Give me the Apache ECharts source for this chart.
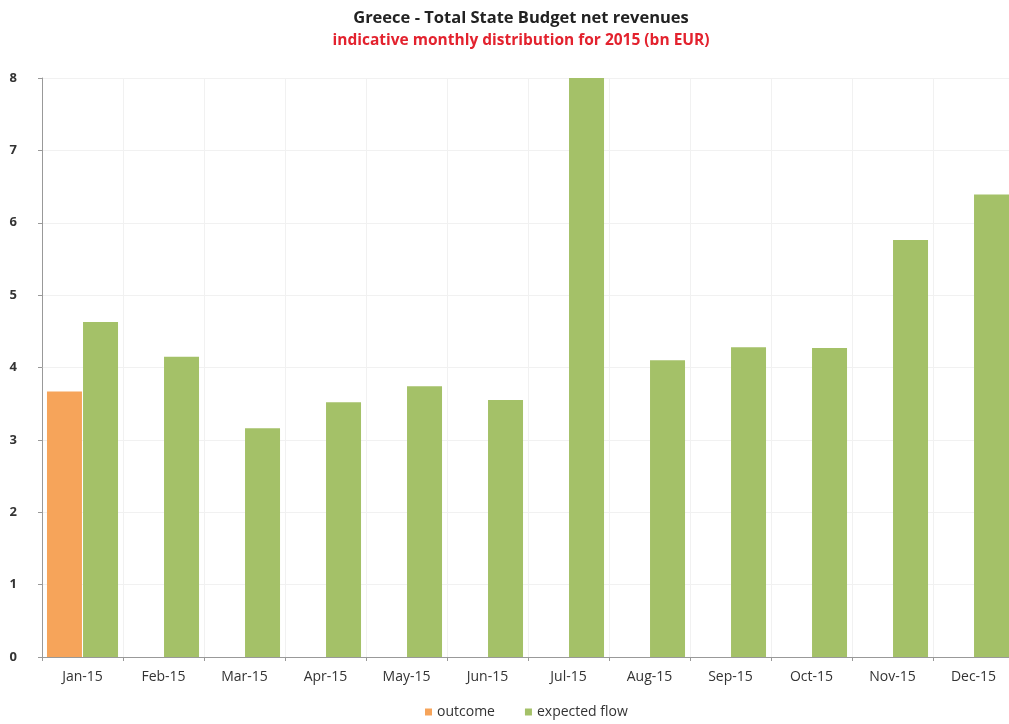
<!DOCTYPE html>
<html><head><meta charset="utf-8">
<script src="https://cdn.jsdelivr.net/npm/echarts@6/dist/echarts.min.js"></script>
<style>html,body{margin:0;padding:0;background:#fff;overflow:hidden}#c{width:1020px;height:724px}</style>
</head><body><div id="c"></div>
<script>
const categories = ['Jan-15','Feb-15','Mar-15','Apr-15','May-15','Jun-15','Jul-15','Aug-15','Sep-15','Oct-15','Nov-15','Dec-15'];
const outcome = [3.67, null, null, null, null, null, null, null, null, null, null, null];
const expectedFlow = [4.63, 4.15, 3.16, 3.52, 3.74, 3.55, 8.0, 4.10, 4.28, 4.27, 5.76, 6.39];
const yTicks = [0,1,2,3,4,5,6,7,8];

const chart = echarts.init(document.getElementById('c'));
const font = '"Open Sans", sans-serif';
chart.setOption({
  animation: false,
  textStyle: {fontFamily: font},
  title: {
    text: 'Greece - Total State Budget net revenues',
    subtext: 'indicative monthly distribution for 2015 (bn EUR)',
    left: 516, top: 5, textAlign: 'center', itemGap: 6,
    textStyle: {fontFamily: font, fontSize: 16.5, fontWeight: 'bold', color: '#222'},
    subtextStyle: {fontFamily: font, fontSize: 15.5, fontWeight: 'bold', color: '#e3222e'}
  },
  legend: {
    bottom: 0, left: 420, itemWidth: 7, itemHeight: 7, itemGap: 30, itemStyle: {borderWidth: 0},
    icon: 'rect',
    textStyle: {fontFamily: font, fontSize: 14, color: '#333'},
    data: ['outcome', 'expected flow']
  },
  grid: {left: 42, top: 78, right: 6, bottom: 67, containLabel: false},
  xAxis: {
    type: 'category', data: categories,
    axisLine: {lineStyle: {color: '#999', width: 1}},
    axisTick: {show: true, length: 4, lineStyle: {color: '#999'}},
    axisLabel: {color: '#333', fontSize: 14, margin: 13, fontFamily: font},
    splitLine: {show: true, lineStyle: {color: '#f1f1f1', width: 1}}
  },
  yAxis: {
    type: 'value', min: 0, max: 8, interval: 1,
    axisLine: {show: true, lineStyle: {color: '#999', width: 1}},
    axisTick: {show: true, length: 4, lineStyle: {color: '#999'}},
    axisLabel: {color: '#333', fontSize: 13, fontWeight: 'bold', margin: 25,
      formatter: v => yTicks.includes(v) ? String(v) : ''},
    splitLine: {show: true, lineStyle: {color: '#f1f1f1', width: 1}}
  },
  series: [
    {name: 'outcome', type: 'bar', data: outcome, barWidth: 35, barGap: '3%',
     itemStyle: {color: '#f6a45a'}},
    {name: 'expected flow', type: 'bar', data: expectedFlow, barWidth: 35,
     itemStyle: {color: '#a4c168'}}
  ]
});
</script></body></html>
